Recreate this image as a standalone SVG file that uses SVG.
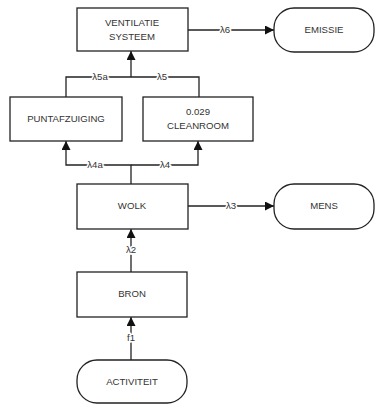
<svg xmlns="http://www.w3.org/2000/svg" width="376" height="405" viewBox="0 0 376 405">
<defs>
<marker id="ah" viewBox="0 0 10 10" refX="10" refY="5" markerWidth="9" markerHeight="9" markerUnits="userSpaceOnUse" orient="auto">
<path d="M0,0 L10,5 L0,10 z" fill="#111"/>
</marker>
</defs>
<style>
.box{fill:#fff;stroke:#222;stroke-width:1.3}
.t{font-family:"Liberation Sans",Arial,sans-serif;font-size:9.6px;fill:#333;text-anchor:middle}
.l{font-family:"Liberation Sans",Arial,sans-serif;font-size:9.6px;fill:#333;text-anchor:middle;stroke:#fff;stroke-width:3px;paint-order:stroke}
.c{fill:none;stroke:#222;stroke-width:1.3}
</style>
<rect width="376" height="405" fill="#fff"/>
<g id="connectors">
<path class="c" d="M188,30 H274" marker-end="url(#ah)"/>
<path class="c" d="M66,97 V77 H199 V97"/>
<path class="c" d="M131,77 V51" marker-end="url(#ah)"/>
<path class="c" d="M131,184 V165 H66 V141" marker-end="url(#ah)"/>
<path class="c" d="M131,165 H198 V141" marker-end="url(#ah)"/>
<path class="c" d="M188,206 H274" marker-end="url(#ah)"/>
<path class="c" d="M131,272 V229" marker-end="url(#ah)"/>
<path class="c" d="M131,360 V317" marker-end="url(#ah)"/>
<text class="l" x="225" y="33">λ6</text>
<text class="l" x="100" y="80">λ5a</text>
<text class="l" x="162" y="80">λ5</text>
<text class="l" x="95" y="168">λ4a</text>
<text class="l" x="165" y="168">λ4</text>
<text class="l" x="231" y="209">λ3</text>
<text class="l" x="131" y="253">λ2</text>
<text class="l" x="131" y="341">f1</text>
</g>
<g id="ventilatie">
<rect class="box" x="77" y="8" width="111" height="43"/>
<text class="t" x="132" y="26">VENTILATIE</text>
<text class="t" x="132" y="40">SYSTEEM</text>
</g>
<g id="emissie">
<rect class="box" x="274" y="8" width="100" height="44" rx="20" ry="20"/>
<text class="t" x="324" y="33">EMISSIE</text>
</g>
<g id="puntafzuiging">
<rect class="box" x="10" y="97" width="112" height="44"/>
<text class="t" x="66" y="122">PUNTAFZUIGING</text>
</g>
<g id="cleanroom">
<rect class="box" x="143" y="97" width="110" height="44"/>
<text class="t" x="198" y="115">0.029</text>
<text class="t" x="198" y="129">CLEANROOM</text>
</g>
<g id="wolk">
<rect class="box" x="77" y="184" width="111" height="45"/>
<text class="t" x="132" y="209">WOLK</text>
</g>
<g id="mens">
<rect class="box" x="274" y="184" width="100" height="45" rx="20" ry="20"/>
<text class="t" x="324" y="209">MENS</text>
</g>
<g id="bron">
<rect class="box" x="77" y="272" width="110" height="45"/>
<text class="t" x="132" y="297">BRON</text>
</g>
<g id="activiteit">
<rect class="box" x="77" y="360" width="110" height="43" rx="20" ry="20"/>
<text class="t" x="132" y="385">ACTIVITEIT</text>
</g>
</svg>
